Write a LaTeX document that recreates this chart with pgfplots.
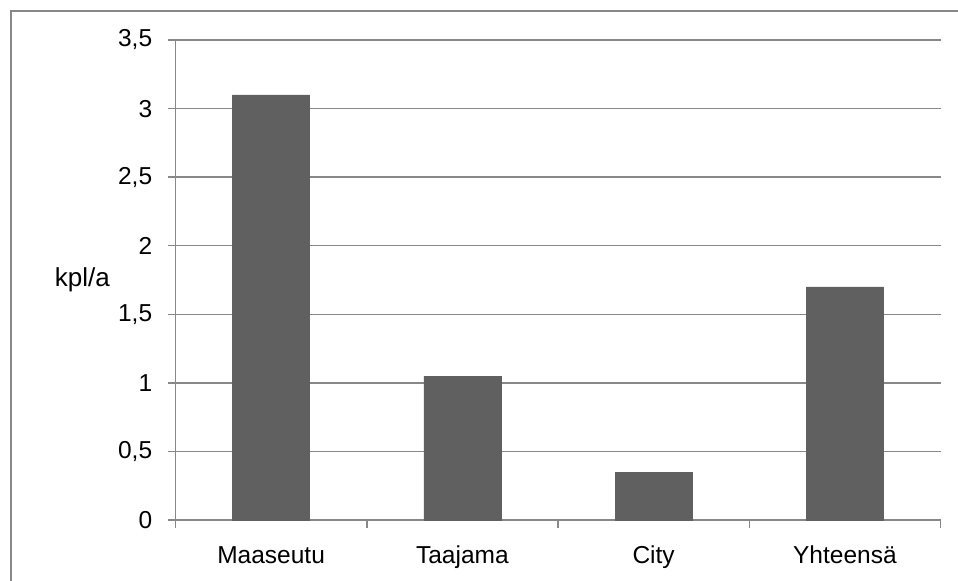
\documentclass[border=0pt]{standalone}
\usepackage{pgfplots}
\pgfplotsset{compat=1.18}
\usepackage{fontspec}
\setmainfont{Liberation Sans}
\definecolor{barc}{HTML}{606060}
\definecolor{gridc}{HTML}{888888}
\begin{document}
\fontsize{24.5bp}{28bp}\selectfont
\begin{tikzpicture}
\begin{axis}[
  at={(0,0)}, anchor=south west,
  scale only axis,
  width=765bp, height=480bp,
  xmin=-0.5, xmax=3.5,
  ymin=0, ymax=3.5,
  xtick={0,1,2,3},
  xticklabels={Maaseutu, Taajama, City, Yhteensä},
  minor xtick={-0.5,0.5,1.5,2.5,3.5},
  ytick={0,0.5,1,1.5,2,2.5,3,3.5},
  yticklabels={0,{0,5},1,{1,5},2,{2,5},3,{3,5}},
  major x tick style={draw=none},
  tick align=outside,
  major tick length=7bp,
  minor tick length=8bp,
  every tick/.style={gridc, line width=1.5bp},
  ymajorgrids,
  major grid style={gridc, line width=1.5bp},
  axis line style={gridc, line width=1.5bp},
  axis x line*=bottom,
  axis y line*=left,
  yticklabel style={font=\fontsize{24.5bp}{28bp}\selectfont, anchor=east, xshift=-8bp},
  xticklabel style={font=\fontsize{24.5bp}{28bp}\selectfont, text height=17.5bp, text depth=5bp, yshift=-11bp},
  every axis y label/.style={at={(axis description cs:0,0.5)}, anchor=west, xshift=-129bp, font=\fontsize{26bp}{28bp}\selectfont},
  ylabel={kpl/a},
]
\addplot[ybar, bar width=77bp, fill=barc, draw=barc] coordinates {(0,3.10) (1,1.05) (2,0.35) (3,1.70)};
\end{axis}
\draw[gridc, line width=2bp] (-164.5bp,-70bp) -- (-164.5bp,509bp) -- (800bp,509bp);
\pgfresetboundingbox
\useasboundingbox (-175.5bp,-61bp) rectangle (782.5bp,520bp);
\end{tikzpicture}
\end{document}
